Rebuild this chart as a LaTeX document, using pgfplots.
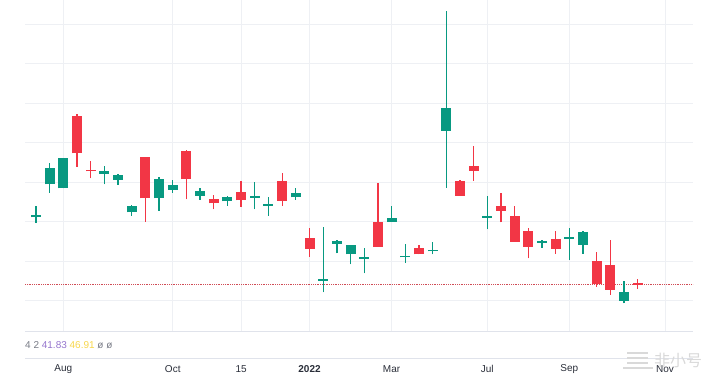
\documentclass[border=0pt]{standalone}
\usepackage{pgfplots}
\pgfplotsset{compat=1.18}
\usepackage{pgfplotstable}
\usepackage{fontspec}
\setmainfont{Liberation Sans}
\newfontfamily\cjk{Noto Sans CJK SC}
\definecolor{up}{HTML}{089981}
\definecolor{down}{HTML}{F23645}
\definecolor{gridc}{HTML}{EEF0F4}
\definecolor{sepc}{HTML}{E0E3EB}
\definecolor{lbl}{HTML}{2A2E39}
\definecolor{grt}{HTML}{787B86}
\definecolor{purp}{HTML}{9575CD}
\definecolor{yell}{HTML}{F7D64A}

\pgfplotstableread{
x o h l c
0 113.5 125.3 108.3 115.5
1 146.7 167.7 138.3 162.7
2 142.7 173 142.5 172.7
5 157 165 146.7 159.7
6 151 156.5 146 156.3
7 118.7 125.5 115 125.3
9 132.7 154.3 120.3 152.3
10 141 151 138.3 146
12 135.3 142.7 131 139.7
14 129.7 134.5 125 134.3
16 133.2 148.7 121.7 134.7
17 125.2 133.7 115.3 126.7
19 133.7 142.7 131 138.3
21 50.2 103.5 38.7 51.7
22 87.3 90.5 77.5 90.3
23 76.5 86 66.5 86
24 72 82.7 57.7 73.5
26 109.3 125.3 109.3 112.7
27 73.5 87 68.3 75
29 79.5 89.3 76.7 81
30 200.3 320 143.3 222.7
33 113 135 101.7 114.5
37 88 90.5 83 90.3
39 92.2 103.3 71 93.7
40 86 99.5 77 99.3
43 30 50 27.7 39.3
}\upT

\pgfplotstableread{
x o h l c
3 215.3 216.7 164.3 177.7
4 161 170 152.7 159.5
8 174 174 109.3 132.7
11 180.3 180.5 131.7 151.7
13 132 136 121.7 127.7
15 138.7 150 124.3 130.7
18 150 158.3 125 130
20 92.7 102.7 74 82.3
25 109.3 148.3 84.3 84.3
28 83 86 76.7 76.7
31 150 150.5 135.3 135.3
32 165.3 185.3 150 160
34 125 138.3 108.5 120.3
35 115 125 89 89
36 100.3 102.7 72.7 84.3
38 92 100.3 77 82
41 70 79.3 44.3 46.7
42 66 91 36 41
44 47.5 52 42 46.2
}\downT

\pgfplotsset{
  wick/.style={only marks, mark=*, mark size=0pt, mark options={draw=none, fill=none, opacity=0}, forget plot,
    error bars/.cd, y dir=plus, y explicit, error mark=none,
    error bar style={line width=1.3pt, color=#1, opacity=1}},
  body/.style={only marks, mark=*, mark size=0pt, mark options={draw=none, fill=none, opacity=0}, forget plot,
    error bars/.cd, y dir=plus, y explicit, error mark=none,
    error bar style={line width=10pt, color=#1, opacity=1}},
}

\begin{document}
\begin{tikzpicture}[x=1pt,y=1pt]
\path[use as bounding box] (0,0) rectangle (719,379);
\begin{axis}[
  at={(25pt,48pt)}, anchor=south west,
  scale only axis, width=668pt, height=331pt,
  xmin=-0.804, xmax=48.04, ymin=0, ymax=331,
  xtick={2,10,15,20,26,33,39,46},
  xticklabels={Aug,Oct,15,\textbf{2022},Mar,Jul,Sep,Nov},
  ytick={30.5,70,109.5,149,188.5,228,267.5,307},
  yticklabels={},
  xmajorgrids, ymajorgrids,
  grid style={gridc, line width=0.8pt},
  axis line style={draw=none},
  major tick length=0pt,
  xticklabel style={anchor=center, yshift=-38pt, font=\fontsize{10}{12}\selectfont, text=lbl},
]
\addplot[down!70!gray, densely dotted, line width=0.8pt, forget plot] coordinates {(-0.804,46.7) (48.04,46.7)};
\addplot[wick=up] table[x=x, y=l, y error expr=\thisrow{h}-\thisrow{l}] {\upT};
\addplot[body=up] table[x=x, y=o, y error expr=\thisrow{c}-\thisrow{o}] {\upT};
\addplot[wick=down] table[x=x, y=l, y error expr=\thisrow{h}-\thisrow{l}] {\downT};
\addplot[body=down] table[x=x, y=c, y error expr=\thisrow{o}-\thisrow{c}] {\downT};
\end{axis}
\draw[sepc, line width=0.8pt] (25,48) -- (693,48);
\draw[sepc, line width=0.8pt] (25,21) -- (693,21);
\node[anchor=west, inner sep=0pt, font=\fontsize{10}{12}\selectfont] at (25,34)
  {\textcolor{grt}{4 2}\ \textcolor{purp}{41.83}\ \textcolor{yell}{46.91}\ \textcolor{grt}{ø ø}};
% watermark
\begin{scope}[gray!30, line width=1.6pt]
\draw (627,26) -- (648,26);
\draw (627,21) -- (648,21);
\draw (627,16) -- (648,16);
\draw (623,11) -- (653,11);
\end{scope}
\node[anchor=west, inner sep=0pt, text=gray!30, font=\cjk\fontsize{16}{18}\selectfont] at (654,19) {非小号};
\end{tikzpicture}
\end{document}
